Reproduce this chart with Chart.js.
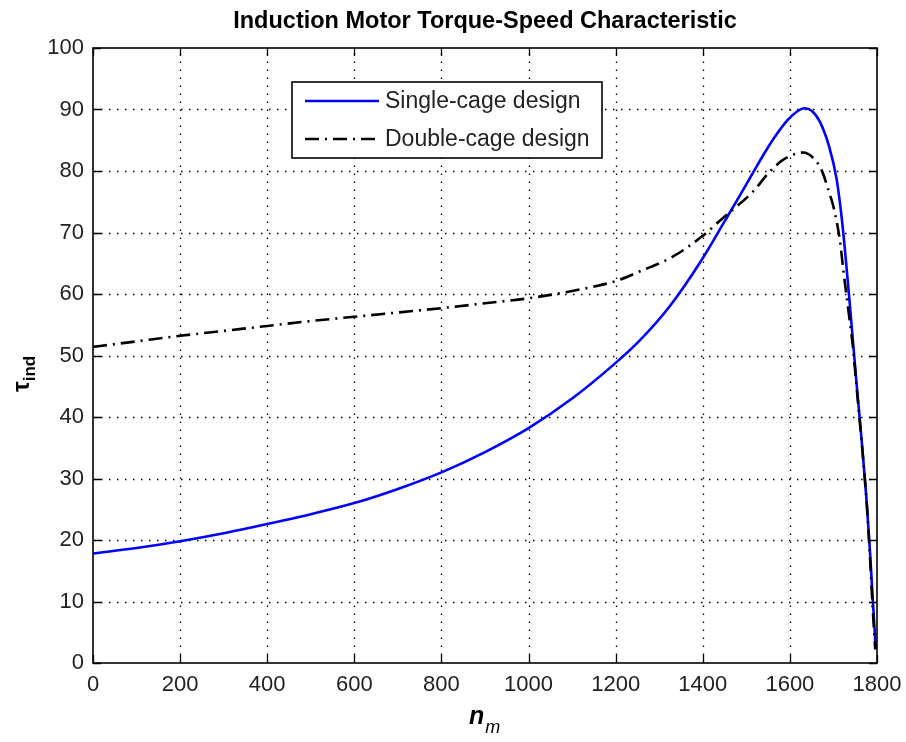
<!DOCTYPE html>
<html>
<head>
<meta charset="utf-8">
<script src="https://cdn.jsdelivr.net/npm/chart.js@4.4.1/dist/chart.umd.min.js"></script>
<style>
  html, body { margin: 0; padding: 0; background: #ffffff; }
  #c { display: block; }
</style>
</head>
<body>
<canvas id="c" width="906" height="742"></canvas>
<script>
// ---- Data ----
const chartTitle = 'Induction Motor Torque-Speed Characteristic';
const seriesLabels = ['Single-cage design', 'Double-cage design'];

const speedSingle  = [0, 100, 200, 300, 400, 500, 600, 700, 800, 900, 1000, 1100, 1200, 1256, 1325, 1397, 1450, 1485, 1520, 1545, 1570, 1595, 1615, 1633, 1650, 1669, 1690, 1707, 1718, 1726, 1738, 1753, 1765, 1776, 1784, 1791, 1797];
const torqueSingle = [17.8, 18.7, 19.8, 21.1, 22.6, 24.2, 26.0, 28.3, 31.0, 34.3, 38.2, 43.0, 48.8, 52.5, 58.1, 65.5, 71.8, 76.0, 80.3, 83.3, 86.0, 88.3, 89.6, 90.2, 89.8, 88.0, 84.0, 78.8, 73.0, 67.5, 58.0, 45.5, 36.0, 26.5, 18.0, 9.5, 2.5];

const speedDouble  = [0, 100, 200, 300, 400, 500, 600, 700, 800, 900, 1000, 1100, 1200, 1256, 1332, 1397, 1447, 1516, 1550, 1580, 1605, 1630, 1654, 1673, 1692, 1700, 1715, 1723, 1734, 1745, 1753, 1765, 1776, 1784, 1791, 1796];
const torqueDouble = [51.4, 52.3, 53.2, 54.0, 54.8, 55.6, 56.3, 57.0, 57.7, 58.5, 59.3, 60.5, 62.1, 63.7, 66.1, 69.3, 72.4, 76.7, 79.6, 81.6, 82.6, 83.0, 82.1, 80.1, 76.1, 74.2, 68.6, 63.7, 57.5, 51.2, 45.0, 35.7, 26.4, 17.0, 7.8, 2.2];

const xTicks = [0, 200, 400, 600, 800, 1000, 1200, 1400, 1600, 1800];
const yTicks = [0, 10, 20, 30, 40, 50, 60, 70, 80, 90, 100];

// ---- Styles ----
const FONT = '"Liberation Sans", Arial, Helvetica, sans-serif';
const singleStyle = { color: '#0000ff', width: 2.6, dash: [] };
const doubleStyle = { color: '#000000', width: 2.6, dash: [14, 6, 2, 6] };

const toPoints = (xs, ys) => xs.map((x, i) => ({ x: x, y: ys[i] }));

const decor = {
  id: 'decor',
  beforeDatasetsDraw(chart) {
    const { ctx, chartArea: a, scales: { x, y } } = chart;
    ctx.save();
    ctx.strokeStyle = '#000';
    ctx.lineWidth = 1.3;
    ctx.setLineDash([1.5, 6.5]);
    xTicks.forEach(v => {
      if (v === xTicks[0] || v === xTicks[xTicks.length - 1]) return;
      const p = Math.round(x.getPixelForValue(v)) + 0.5;
      ctx.beginPath(); ctx.moveTo(p, a.bottom); ctx.lineTo(p, a.top); ctx.stroke();
    });
    yTicks.forEach(v => {
      if (v === yTicks[0] || v === yTicks[yTicks.length - 1]) return;
      const p = Math.round(y.getPixelForValue(v)) + 0.5;
      ctx.beginPath(); ctx.moveTo(a.left, p); ctx.lineTo(a.right, p); ctx.stroke();
    });
    ctx.restore();
  },
  afterDatasetsDraw(chart) {
    const { ctx, chartArea: a, scales: { x, y } } = chart;
    ctx.save();
    // axes box
    ctx.setLineDash([]);
    ctx.strokeStyle = '#000';
    ctx.lineWidth = 1.6;
    ctx.strokeRect(a.left, a.top, a.right - a.left, a.bottom - a.top);
    // inward ticks on all four sides
    const tl = 8;
    ctx.lineWidth = 1.3;
    xTicks.forEach(v => {
      const p = Math.round(x.getPixelForValue(v)) + 0.5;
      ctx.beginPath();
      ctx.moveTo(p, a.bottom); ctx.lineTo(p, a.bottom - tl);
      ctx.moveTo(p, a.top); ctx.lineTo(p, a.top + tl);
      ctx.stroke();
    });
    yTicks.forEach(v => {
      const p = Math.round(y.getPixelForValue(v)) + 0.5;
      ctx.beginPath();
      ctx.moveTo(a.left, p); ctx.lineTo(a.left + tl, p);
      ctx.moveTo(a.right, p); ctx.lineTo(a.right - tl, p);
      ctx.stroke();
    });

    // legend
    const lx = 292, ly = 82, lw = 310, lh = 76;
    ctx.fillStyle = '#fff';
    ctx.fillRect(lx, ly, lw, lh);
    ctx.lineWidth = 1.6;
    ctx.strokeStyle = '#000';
    ctx.strokeRect(lx, ly, lw, lh);
    const styles = [singleStyle, doubleStyle];
    chart.data.datasets.forEach((ds, i) => {
      const st = styles[i];
      const cy = ly + 19 + i * 38;
      ctx.save();
      ctx.strokeStyle = st.color;
      ctx.lineWidth = st.width;
      ctx.setLineDash(st.dash);
      ctx.beginPath(); ctx.moveTo(lx + 13, cy); ctx.lineTo(lx + 87, cy); ctx.stroke();
      ctx.restore();
      ctx.fillStyle = '#222';
      ctx.font = '23px ' + FONT;
      ctx.textAlign = 'left';
      ctx.textBaseline = 'middle';
      ctx.fillText(ds.label, lx + 93, cy + 1);
    });

    // title
    ctx.fillStyle = '#000';
    ctx.font = 'bold 23.5px ' + FONT;
    ctx.textAlign = 'center';
    ctx.textBaseline = 'alphabetic';
    ctx.fillText(chartTitle, (a.left + a.right) / 2, 28);

    // x axis label: n_m
    ctx.textAlign = 'left';
    ctx.font = 'italic bold 25px ' + FONT;
    const nW = ctx.measureText('n').width;
    const xl = (a.left + a.right) / 2 - 16;
    ctx.fillText('n', xl, 724);
    ctx.font = 'italic 18px ' + FONT;
    ctx.fillText('m', xl + nW + 1, 733);

    // y axis label: tau_ind (rotated)
    ctx.save();
    ctx.translate(29, 392);
    ctx.rotate(-Math.PI / 2);
    ctx.font = 'bold 24px ' + FONT;
    const tW = ctx.measureText('\u03C4').width;
    ctx.fillText('\u03C4', 0, 0);
    ctx.font = 'bold 17px ' + FONT;
    ctx.fillText('ind', tW, 6);
    ctx.restore();

    ctx.restore();
  }
};

new Chart(document.getElementById('c'), {
  type: 'scatter',
  data: {
    datasets: [
      {
        label: seriesLabels[0],
        data: toPoints(speedSingle, torqueSingle),
        showLine: true,
        borderColor: singleStyle.color,
        borderWidth: singleStyle.width,
        pointRadius: 0,
        cubicInterpolationMode: 'monotone',
        order: 2
      },
      {
        label: seriesLabels[1],
        data: toPoints(speedDouble, torqueDouble),
        showLine: true,
        borderColor: doubleStyle.color,
        borderWidth: doubleStyle.width,
        borderDash: doubleStyle.dash,
        pointRadius: 0,
        cubicInterpolationMode: 'monotone',
        order: 1
      }
    ]
  },
  options: {
    responsive: false,
    devicePixelRatio: 1,
    animation: false,
    layout: { padding: { left: 0, right: 29, top: 48, bottom: 0 } },
    plugins: { legend: { display: false }, tooltip: { enabled: false }, title: { display: false } },
    scales: {
      x: {
        type: 'linear', min: 0, max: 1800,
        afterBuildTicks: s => { s.ticks = xTicks.map(v => ({ value: v })); },
        afterFit: s => { s.height = 79; s.paddingLeft = 0; s.paddingRight = 0; },
        grid: { display: false, drawTicks: false },
        border: { display: false },
        ticks: { color: '#222', font: { family: FONT, size: 22 }, padding: 9, maxRotation: 0, autoSkip: false, callback: v => String(v) }
      },
      y: {
        type: 'linear', min: 0, max: 100,
        afterBuildTicks: s => { s.ticks = yTicks.map(v => ({ value: v })); },
        afterFit: s => { s.width = 93; s.paddingTop = 0; s.paddingBottom = 0; },
        grid: { display: false, drawTicks: false },
        border: { display: false },
        ticks: { color: '#222', font: { family: FONT, size: 22 }, padding: 9, autoSkip: false, callback: v => String(v) }
      }
    }
  },
  plugins: [decor]
});
</script>
</body>
</html>
